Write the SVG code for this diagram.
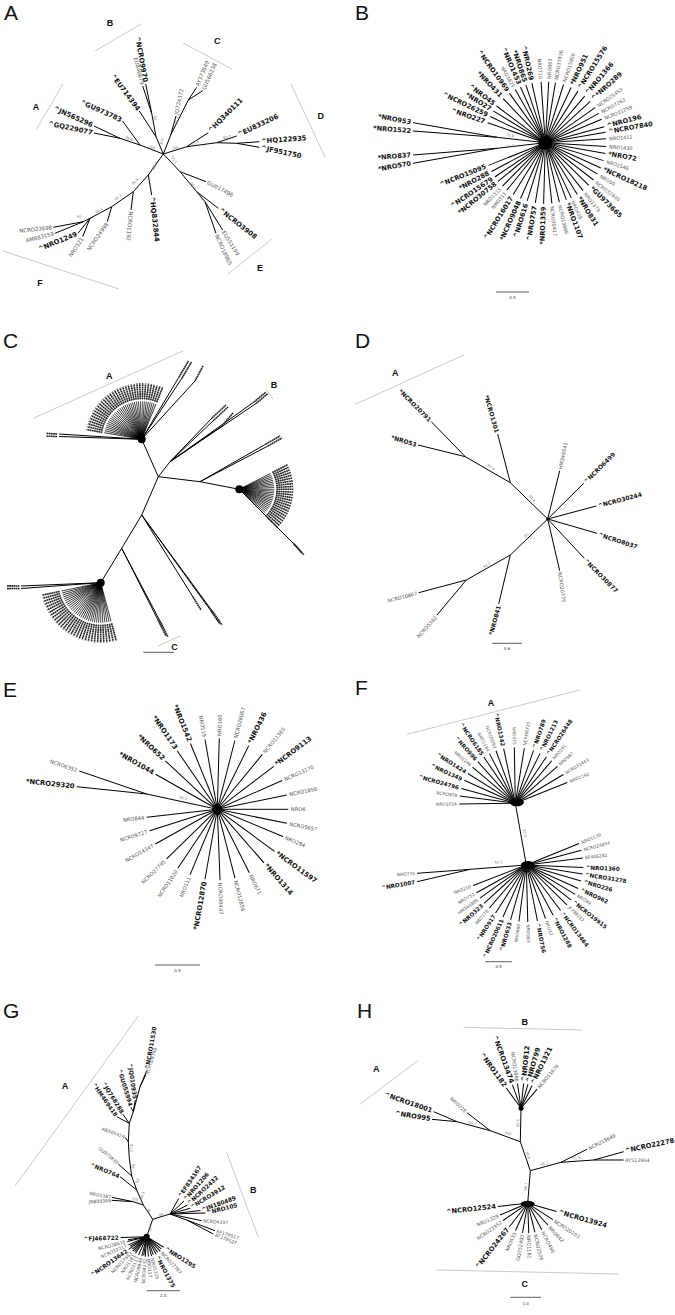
<svg xmlns="http://www.w3.org/2000/svg" width="675" height="1315" viewBox="0 0 675 1315">
<style>
text{font-family:'DejaVu Sans',Verdana,sans-serif;dominant-baseline:central}
line,path{stroke:#000;stroke-width:1;fill:none}
.b{font-weight:bold;fill:#111}
.s{fill:#555}
.L{text-anchor:end}
.bs{font-size:3.6px;fill:#777;text-anchor:middle}
.pl{font-family:'Liberation Sans',Arial,sans-serif;font-size:21px;fill:#111;dominant-baseline:auto}
.cl{font-family:'Liberation Sans',Arial,sans-serif;font-weight:bold;font-size:9px;fill:#111;text-anchor:middle;dominant-baseline:auto}
.sc{font-size:4px;fill:#333;text-anchor:middle;dominant-baseline:auto}
.br{stroke:#bbb;stroke-width:.8}
.scl{stroke:#333;stroke-width:.8}
.fl{stroke-width:.7}
.sm{stroke:#222;stroke-width:1.6;stroke-dasharray:1.8 .4}
#pA .b{font-size:6.8px}#pA .s{font-size:5.4px}
#pB .b{font-size:6.6px}#pB .s{font-size:4.9px}
#pD .b{font-size:6px}#pD .s{font-size:5px}
#pE .b{font-size:6.8px}#pE .s{font-size:5.2px}
#pF .b{font-size:5.6px}#pF .s{font-size:4.4px}
#pG .b{font-size:5.8px}#pG .s{font-size:4.6px}
#pH .b{font-size:6.7px}#pH .s{font-size:4.9px}
</style>
<defs>
<g id="spA"><line class="fl" x2="38"/><line class="sm" x1="40" x2="56"/></g>
<g id="spC"><line class="fl" x2="40"/><line class="sm" x1="42" x2="60"/></g>
<g id="spD"><line class="fl" x2="35"/><line class="sm" x1="37" x2="54"/></g>
</defs>
<rect width="675" height="1315" fill="#fff"/>

<!-- ================= PANEL A ================= -->
<g id="pA">
<text class="pl" x="4" y="20">A</text>
<g id="pA-clades">
<line class="br" x1="95" y1="51" x2="141" y2="24"/>
<line class="br" x1="183" y1="43" x2="232" y2="69"/>
<line class="br" x1="291" y1="84" x2="325" y2="157"/>
<line class="br" x1="36" y1="130" x2="63" y2="84"/>
<line class="br" x1="228" y1="274" x2="272" y2="239"/>
<line class="br" x1="3" y1="251" x2="119" y2="289"/>
<text class="cl" x="110" y="26">B</text>
<text class="cl" x="217.3" y="44">C</text>
<text class="cl" x="320.7" y="118.5">D</text>
<text class="cl" x="36" y="110">A</text>
<text class="cl" x="260" y="271">E</text>
<text class="cl" x="40" y="286">F</text>
</g>
<g id="pA-edges">
<path d="M163.3,154 L140,145 L122.5,121 M140,145 L120,138.3 L94,126 M120,138.3 L94,133 M163.3,154 L156,136.7 L139.3,111 M156,136.7 L151.7,113.3 L145.7,84 M151.7,113.3 L142.7,86 M163.3,154 L170.7,135 L176,116 M170.7,135 L188.3,100 L196.7,87.3 M188.3,100 L202.7,90.7 M163.3,154 L186.7,146.7 L208.3,132.7 M186.7,146.7 L216.7,142.7 L236.7,136 M216.7,142.7 L236.7,143.3 L259.3,141.7 M236.7,143.3 L259.3,147.3 M163.3,154 L180,171.7 L206,181.7 M180,171.7 L196.7,191.7 L218.3,208.3 M196.7,191.7 L205,201.7 L222.7,230 M205,201.7 L216,233.3 M163.3,154 L148.3,175 L151.7,195 M148.3,175 L133.3,191.7 L131,210 M133.3,191.7 L111.7,206.7 L107.3,221.7 M111.7,206.7 L90,218.3 L83.3,221.7 L53.3,227.3 M83.3,221.7 L55,233.3 M90,218.3 L78,233.3 M90,218.3 L82.7,236.7"/>
</g>
<g id="pA-leaves">
<text id="A01" class="b L" transform="translate(145.3,82) rotate(80)">^NCRO9970</text>
<text id="A02" class="s L" transform="translate(142.3,84.5) rotate(76)">EU840679</text>
<text id="A03" class="b L" transform="translate(138.5,110) rotate(53)">^EU714394</text>
<text id="A04" class="b L" transform="translate(121.5,120.3) rotate(24)">^GU973783</text>
<text id="A05" class="b L" transform="translate(92.5,125.5) rotate(24)">^JN565296</text>
<text id="A06" class="b L" transform="translate(92.5,133) rotate(12)">^GQ229077</text>
<text id="A07" class="s" transform="translate(176.2,114.5) rotate(-78)">JQ724372</text>
<text id="A08" class="s" transform="translate(197.2,86) rotate(-68)">AY373849</text>
<text id="A09" class="s" transform="translate(203.4,89.5) rotate(-66)">GU566238</text>
<text id="A10" class="b" transform="translate(209.5,131.5) rotate(-45)">^HQ340111</text>
<text id="A11" class="b" transform="translate(238,135) rotate(-25)">^EU833206</text>
<text id="A12" class="b" transform="translate(261,141.4) rotate(-4)">^HQ122935</text>
<text id="A13" class="b" transform="translate(261,147.8) rotate(12)">^JF951750</text>
<text id="A14" class="s" transform="translate(207.5,182.3) rotate(27)">GU017496</text>
<text id="A15" class="b" transform="translate(219.5,209.3) rotate(38)">^NCRO3908</text>
<text id="A16" class="s" transform="translate(223.4,231.3) rotate(58)">EU551199</text>
<text id="A17" class="s" transform="translate(216.5,234.8) rotate(65)">NCRO18965</text>
<text id="A18" class="b" transform="translate(151.9,196.5) rotate(84)">^HQ832844</text>
<text id="A19" class="s" transform="translate(130.9,211.5) rotate(95)">NCRO1192</text>
<text id="A20" class="s L" transform="translate(107,223) rotate(-55)">NCRO24998</text>
<text id="A21" class="s L" transform="translate(82.3,238) rotate(-56)">NRO321</text>
<text id="A22" class="b L" transform="translate(77,234) rotate(-22)">^NRO1249</text>
<text id="A23" class="s L" transform="translate(52,227.4) rotate(-6)">NCRO23698</text>
<text id="A24" class="s L" transform="translate(53.8,233.6) rotate(-14)">AM883159</text>
</g>
<g id="pA-support">
<text class="bs" transform="translate(152,147.5) rotate(20)">100</text>
<text class="bs" transform="translate(129,139) rotate(20)">96.6</text>
<text class="bs" transform="translate(162,141.5) rotate(-70)">100</text>
<text class="bs" transform="translate(155.5,118.3) rotate(-80)">99</text>
<text class="bs" transform="translate(177.5,121) rotate(-70)">97.7</text>
<text class="bs" transform="translate(175,148) rotate(-10)">100</text>
<text class="bs" transform="translate(195,143) rotate(-15)">73.4</text>
<text class="bs" transform="translate(227,137.5) rotate(-8)">83.7</text>
<text class="bs" transform="translate(174,160) rotate(50)">55.1</text>
<text class="bs" transform="translate(193,186) rotate(50)">96.3</text>
<text class="bs" transform="translate(202,199.5) rotate(55)">99.1</text>
<text class="bs" transform="translate(155,166) rotate(-65)">88.4</text>
<text class="bs" transform="translate(135,182) rotate(-45)">99.8</text>
<text class="bs" transform="translate(118.3,197.3) rotate(-38)">62.3</text>
<text class="bs" transform="translate(99.3,210.7) rotate(-28)">64.4</text>
<text class="bs" transform="translate(79.3,216.7) rotate(-15)">56</text>
</g>
</g>

<!-- ================= PANEL B ================= -->
<g id="pB">
<text class="pl" x="355" y="20">B</text>
<g id="pB-edges">
<path d="M413,122.7 L497,137.3 L545.3,142.7 M413,131 L497,137.3 M413,155 L497,148.3 L545.3,142.7 M413,163.3 L497,148.3"/>
</g>
<g id="pB-long">
<text id="B-953" class="b L" transform="translate(411,122.3) rotate(10)">*NRO953</text>
<text id="B-1522" class="b L" transform="translate(411,131) rotate(4)">*NRO1522</text>
<text id="B-837" class="b L" transform="translate(411,155) rotate(-5)">*NRO837</text>
<text id="B-570" class="b L" transform="translate(411,163.5) rotate(-10)">*NRO570</text>
<text class="bs" transform="translate(510,135.5) rotate(5)">72.8</text>
<text class="bs" transform="translate(510,146.5) rotate(-5)">64.7</text>
</g>
<g id="pB-leaves" transform="translate(545.3,142.7)">
<g id="B01" transform="rotate(-161)"><line x2="61"/><text class="b L" x="64" transform="rotate(180 64 0)">^NRO227</text></g>
<g id="B02" transform="rotate(-154.6)"><line x2="61"/><text class="b L" x="64" transform="rotate(180 64 0)">^NCRO26259</text></g>
<g id="B03" transform="rotate(-148.6)"><line x2="61"/><text class="b L" x="64" transform="rotate(180 64 0)">*NRO27</text></g>
<g id="B04" transform="rotate(-143)"><line x2="61"/><text class="b L" x="64" transform="rotate(180 64 0)">^NRO45</text></g>
<g id="B05" transform="rotate(-133.7)"><line x2="61"/><text class="b L" x="64" transform="rotate(180 64 0)">*NRO431</text></g>
<g id="B06" transform="rotate(-126)"><line x2="61"/><text class="b L" x="64" transform="rotate(180 64 0)">^NCRO10969</text></g>
<g id="B07" transform="rotate(-119.5)"><line x2="61"/><text class="s L" x="64" transform="rotate(180 64 0)">NRO1823</text></g>
<g id="B08" transform="rotate(-114)"><line x2="61"/><text class="b L" x="64" transform="rotate(180 64 0)">^NRO1453</text></g>
<g id="B09" transform="rotate(-108.6)"><line x2="61"/><text class="b L" x="64" transform="rotate(180 64 0)">*NRO865</text></g>
<g id="B10" transform="rotate(-102.7)"><line x2="61"/><text class="b L" x="64" transform="rotate(180 64 0)">^NRO269</text></g>
<g id="B11" transform="rotate(-94)"><line x2="61"/><text class="s L" x="64" transform="rotate(180 64 0)">NRO710</text></g>
<g id="B12" transform="rotate(-86.8)"><line x2="61"/><text class="s" x="64">NRO883</text></g>
<g id="B13" transform="rotate(-80.4)"><line x2="61"/><text class="s" x="64">NCRO33936</text></g>
<g id="B14" transform="rotate(-72.6)"><line x2="61"/><text class="s" x="64">NCRO15950</text></g>
<g id="B15" transform="rotate(-65)"><line x2="61"/><text class="b" x="64">*NRO951</text></g>
<g id="B16" transform="rotate(-57.7)"><line x2="61"/><text class="b" x="64">^NCRO15576</text></g>
<g id="B17" transform="rotate(-49.8)"><line x2="61"/><text class="b" x="64">^NRO1366</text></g>
<g id="B18" transform="rotate(-42.5)"><line x2="61"/><text class="b" x="64">^*NRO289</text></g>
<g id="B19" transform="rotate(-35.2)"><line x2="61"/><text class="s" x="64">NCRO25453</text></g>
<g id="B20" transform="rotate(-28.7)"><line x2="61"/><text class="s" x="64">NCRO7262</text></g>
<g id="B21" transform="rotate(-22.6)"><line x2="61"/><text class="s" x="64">NCRO21259</text></g>
<g id="B22" transform="rotate(-15.1)"><line x2="61"/><text class="b" x="64">^NRO196</text></g>
<g id="B23" transform="rotate(-9.9)"><line x2="61"/><text class="b" x="64">^NCRO7840</text></g>
<g id="B24" transform="rotate(-3.8)"><line x2="61"/><text class="s" x="64">NRO1412</text></g>
<g id="B25" transform="rotate(3.5)"><line x2="61"/><text class="s" x="64">NRO1430</text></g>
<g id="B26" transform="rotate(10.1)"><line x2="61"/><text class="b" x="64">*NRO72</text></g>
<g id="B27" transform="rotate(17.1)"><line x2="61"/><text class="s" x="64">NRO1546</text></g>
<g id="B28" transform="rotate(24.5)"><line x2="61"/><text class="b" x="64">*NCRO18218</text></g>
<g id="B29" transform="rotate(31)"><line x2="61"/><text class="s" x="64">NRO50</text></g>
<g id="B30" transform="rotate(37.7)"><line x2="61"/><text class="s" x="64">NCRO32400</text></g>
<g id="B31" transform="rotate(44.4)"><line x2="61"/><text class="b" x="64">*GU973665</text></g>
<g id="B32" transform="rotate(51.7)"><line x2="61"/><text class="s" x="64">NRO1379</text></g>
<g id="B33" transform="rotate(58.3)"><line x2="61"/><text class="b" x="64">*NRO831</text></g>
<g id="B34" transform="rotate(64.8)"><line x2="61"/><text class="s" x="64">NRO428</text></g>
<g id="B35" transform="rotate(69.8)"><line x2="61"/><text class="b" x="64">*NRO1107</text></g>
<g id="B36" transform="rotate(76.7)"><line x2="61"/><text class="s" x="64">NCRO13886</text></g>
<g id="B37" transform="rotate(83.8)"><line x2="61"/><text class="s" x="64">NCRO30417</text></g>
<g id="B38" transform="rotate(91.6)"><line x2="61"/><text class="b L" x="64" transform="rotate(180 64 0)">*NRO1359</text></g>
<g id="B39" transform="rotate(99.4)"><line x2="61"/><text class="b L" x="64" transform="rotate(180 64 0)">^NRO757</text></g>
<g id="B40" transform="rotate(107.3)"><line x2="61"/><text class="b L" x="64" transform="rotate(180 64 0)">^NRO616</text></g>
<g id="B41" transform="rotate(114)"><line x2="61"/><text class="b L" x="64" transform="rotate(180 64 0)">*NCRO9048</text></g>
<g id="B42" transform="rotate(121.7)"><line x2="61"/><text class="b L" x="64" transform="rotate(180 64 0)">^NCRO16017</text></g>
<g id="B43" transform="rotate(129)"><line x2="61"/><text class="s L" x="64" transform="rotate(180 64 0)">NRO311</text></g>
<g id="B44" transform="rotate(134.6)"><line x2="61"/><text class="s L" x="64" transform="rotate(180 64 0)">NRO1515</text></g>
<g id="B45" transform="rotate(140.7)"><line x2="61"/><text class="b L" x="64" transform="rotate(180 64 0)">*NCRO30758</text></g>
<g id="B46" transform="rotate(145.8)"><line x2="61"/><text class="b L" x="64" transform="rotate(180 64 0)">^NCRO15679</text></g>
<g id="B47" transform="rotate(151.8)"><line x2="61"/><text class="b L" x="64" transform="rotate(180 64 0)">*NRO288</text></g>
<g id="B48" transform="rotate(158.2)"><line x2="61"/><text class="b L" x="64" transform="rotate(180 64 0)">^NCRO15095</text></g>
<circle r="7" fill="#000"/>
</g>
<g id="pB-scale"><line class="scl" x1="496" y1="292" x2="529" y2="292"/><text class="sc" x="512.5" y="299">0.5</text></g>
</g>

<!-- ================= PANEL C ================= -->
<g id="pC">
<text class="pl" x="3" y="348">C</text>
<g id="pC-clades">
<line class="br" x1="33.3" y1="418.3" x2="183.3" y2="350.7"/>
<text class="cl" x="109.3" y="378.5">A</text>
<line class="br" x1="266" y1="389" x2="273" y2="399"/>
<text class="cl" x="274" y="387.5">B</text>
<line class="br" x1="158" y1="646" x2="180" y2="636"/>
<text class="cl" x="174.5" y="649.5">C</text>
</g>
<g id="pC-edges">
<path d="M141.7,439.3 L158.3,476.7 L170,461.7 L212,418 M170,461.7 L214,420 M170,461.7 L222,426 M170,461.7 L254,402 M170,461.7 L256,403.5 M158.3,476.7 L200,481.7 L266,444 M200,481.7 L268,446 M200,481.7 L239.3,489.3 L293,543 M239.3,489.3 L295,545 M158.3,476.7 L141.7,515 L193,597 M141.7,515 L211,611 M141.7,515 L213,612 M141.7,515 L121.7,548.3 L158,620 M121.7,548.3 L160,621 M121.7,548.3 L100.7,582.7 L21,586 M100.7,582.7 L21,588.5 M141.7,439.3 L59,434 M141.7,439.3 L59,436.5 M141.7,439.3 L179,377 M141.7,439.3 L182,378 M141.7,439.3 L195,381"/>
</g>
<g id="pC-labels">
<line class="sm" x1="212" y1="418" x2="226" y2="405"/>
<line class="sm" x1="214" y1="420" x2="228" y2="407"/>
<line class="sm" x1="222" y1="426" x2="233" y2="413"/>
<line class="sm" x1="254" y1="402" x2="266" y2="392"/>
<line class="sm" x1="256" y1="403.5" x2="268" y2="393.5"/>
<line class="sm" x1="266" y1="444" x2="280" y2="436"/>
<line class="sm" x1="268" y1="446" x2="282" y2="438"/>
<line class="sm" x1="293" y1="543" x2="302" y2="553"/>
<line class="sm" x1="295" y1="545" x2="304" y2="555"/>
<line class="sm" x1="193" y1="597" x2="201" y2="610"/>
<line class="sm" x1="211" y1="611" x2="220" y2="624"/>
<line class="sm" x1="213" y1="612" x2="222" y2="625"/>
<line class="sm" x1="158" y1="620" x2="166" y2="636"/>
<line class="sm" x1="160" y1="621" x2="168" y2="637"/>
<line class="sm" x1="7" y1="585.8" x2="19.5" y2="586"/>
<line class="sm" x1="7" y1="588.6" x2="19.5" y2="588.5"/>
<line class="sm" x1="46.5" y1="433.4" x2="57.5" y2="434"/>
<line class="sm" x1="46.5" y1="436.2" x2="57.5" y2="436.5"/>
<line class="sm" x1="179" y1="377" x2="188.5" y2="361"/>
<line class="sm" x1="182" y1="378" x2="191.5" y2="362"/>
<line class="sm" x1="195" y1="381" x2="203" y2="366"/>
</g>
<g id="pC-fanA" transform="translate(141.7,439.3)">
<use href="#spA" transform="rotate(-170)"/><use href="#spA" transform="rotate(-167)"/><use href="#spA" transform="rotate(-164)"/><use href="#spA" transform="rotate(-161)"/><use href="#spA" transform="rotate(-158)"/><use href="#spA" transform="rotate(-155)"/><use href="#spA" transform="rotate(-152)"/><use href="#spA" transform="rotate(-149)"/><use href="#spA" transform="rotate(-146)"/><use href="#spA" transform="rotate(-143)"/><use href="#spA" transform="rotate(-140)"/><use href="#spA" transform="rotate(-137)"/><use href="#spA" transform="rotate(-134)"/><use href="#spA" transform="rotate(-131)"/><use href="#spA" transform="rotate(-128)"/><use href="#spA" transform="rotate(-125)"/><use href="#spA" transform="rotate(-122)"/><use href="#spA" transform="rotate(-119)"/><use href="#spA" transform="rotate(-116)"/><use href="#spA" transform="rotate(-113)"/><use href="#spA" transform="rotate(-110)"/><use href="#spA" transform="rotate(-107)"/><use href="#spA" transform="rotate(-104)"/><use href="#spA" transform="rotate(-101)"/><use href="#spA" transform="rotate(-98)"/><use href="#spA" transform="rotate(-95)"/><use href="#spA" transform="rotate(-92)"/><use href="#spA" transform="rotate(-89)"/><use href="#spA" transform="rotate(-86)"/><use href="#spA" transform="rotate(-83)"/><use href="#spA" transform="rotate(-80)"/><use href="#spA" transform="rotate(-77)"/><use href="#spA" transform="rotate(-74)"/><use href="#spA" transform="rotate(-71)"/><use href="#spA" transform="rotate(-68)"/>
<circle r="4" fill="#000"/>
</g>
<g id="pC-fanC" transform="translate(100.7,582.7)">
<use href="#spC" transform="rotate(75)"/><use href="#spC" transform="rotate(78)"/><use href="#spC" transform="rotate(81)"/><use href="#spC" transform="rotate(84)"/><use href="#spC" transform="rotate(87)"/><use href="#spC" transform="rotate(90)"/><use href="#spC" transform="rotate(93)"/><use href="#spC" transform="rotate(96)"/><use href="#spC" transform="rotate(99)"/><use href="#spC" transform="rotate(102)"/><use href="#spC" transform="rotate(105)"/><use href="#spC" transform="rotate(108)"/><use href="#spC" transform="rotate(111)"/><use href="#spC" transform="rotate(114)"/><use href="#spC" transform="rotate(117)"/><use href="#spC" transform="rotate(120)"/><use href="#spC" transform="rotate(123)"/><use href="#spC" transform="rotate(126)"/><use href="#spC" transform="rotate(129)"/><use href="#spC" transform="rotate(132)"/><use href="#spC" transform="rotate(135)"/><use href="#spC" transform="rotate(138)"/><use href="#spC" transform="rotate(141)"/><use href="#spC" transform="rotate(144)"/><use href="#spC" transform="rotate(147)"/><use href="#spC" transform="rotate(150)"/><use href="#spC" transform="rotate(153)"/><use href="#spC" transform="rotate(156)"/><use href="#spC" transform="rotate(159)"/><use href="#spC" transform="rotate(162)"/><use href="#spC" transform="rotate(165)"/><use href="#spC" transform="rotate(168)"/>
<circle r="4" fill="#000"/>
</g>
<g id="pC-fanD" transform="translate(239.3,489.3)">
<use href="#spD" transform="rotate(-27)"/><use href="#spD" transform="rotate(-24)"/><use href="#spD" transform="rotate(-21)"/><use href="#spD" transform="rotate(-18)"/><use href="#spD" transform="rotate(-15)"/><use href="#spD" transform="rotate(-12)"/><use href="#spD" transform="rotate(-9)"/><use href="#spD" transform="rotate(-6)"/><use href="#spD" transform="rotate(-3)"/><use href="#spD" transform="rotate(0)"/><use href="#spD" transform="rotate(3)"/><use href="#spD" transform="rotate(6)"/><use href="#spD" transform="rotate(9)"/><use href="#spD" transform="rotate(12)"/><use href="#spD" transform="rotate(15)"/><use href="#spD" transform="rotate(18)"/><use href="#spD" transform="rotate(21)"/><use href="#spD" transform="rotate(24)"/><use href="#spD" transform="rotate(27)"/><use href="#spD" transform="rotate(30)"/><use href="#spD" transform="rotate(33)"/><use href="#spD" transform="rotate(36)"/><use href="#spD" transform="rotate(39)"/><use href="#spD" transform="rotate(42)"/><use href="#spD" transform="rotate(45)"/>
<circle r="4" fill="#000"/>
</g>
<g id="pC-scale"><line class="scl" x1="143.3" y1="652.3" x2="174" y2="652.3"/></g>
</g>

<!-- ================= PANEL D ================= -->
<g id="pD">
<text class="pl" x="355" y="348">D</text>
<g id="pD-clades">
<line class="br" x1="355.3" y1="404.3" x2="463.7" y2="355"/>
<text class="cl" x="395.3" y="376">A</text>
</g>
<g id="pD-edges">
<path d="M547.7,519 L510.3,482.7 L465.3,456.7 L431.3,421.7 M465.3,456.7 L418,445 M510.3,482.7 L497.7,434 M547.7,519 L559.7,470.7 M547.7,519 L583.7,483.3 M547.7,519 L596.3,506 M547.7,519 L597,533.3 M547.7,519 L584.3,558.3 M547.7,519 L559.7,570.7 M547.7,519 L510.3,555 L498.7,604 M510.3,555 L466.3,580 L418.7,592.7 M466.3,580 L437,615"/>
<circle cx="547.7" cy="519" r="1.5" fill="#000"/>
</g>
<g id="pD-leaves">
<text id="D01" class="b L" transform="translate(430.5,420.5) rotate(45)">*NCRO20791</text>
<text id="D02" class="b L" transform="translate(416.5,444.5) rotate(17)">*NRO53</text>
<text id="D03" class="b L" transform="translate(497.3,432.5) rotate(74)">*NCRO1301</text>
<text id="D04" class="s" transform="translate(560,469) rotate(-78)">HM346541</text>
<text id="D05" class="b" transform="translate(585,482) rotate(-45)">^NCRO6499</text>
<text id="D06" class="b" transform="translate(598,505.5) rotate(-15)">^NCRO30244</text>
<text id="D07" class="b" transform="translate(598.5,534) rotate(18)">^NCRO8037</text>
<text id="D08" class="b" transform="translate(585.3,559.5) rotate(45)">^NCRO30877</text>
<text id="D09" class="s" transform="translate(560,572) rotate(82)">NCRO20335</text>
<text id="D10" class="b L" transform="translate(498.5,605.5) rotate(-75)">*NRO841</text>
<text id="D11" class="s L" transform="translate(417,593) rotate(-15)">NCRO10867</text>
<text id="D12" class="s L" transform="translate(436,616.5) rotate(-48)">NCRO5362</text>
</g>
<g id="pD-support">
<text class="bs" transform="translate(491,467.5) rotate(30)">93.6</text>
<text class="bs" transform="translate(532,498.5) rotate(45)">92.4</text>
<text class="bs" transform="translate(526.5,535.5) rotate(-45)">85</text>
<text class="bs" transform="translate(487,565.5) rotate(-30)">54.7</text>
</g>
<g id="pD-scale"><line class="scl" x1="492" y1="643.3" x2="522" y2="643.3"/><text class="sc" x="507" y="650">0.6</text></g>
</g>

<!-- ================= PANEL E ================= -->
<g id="pE">
<text class="pl" x="3" y="697">E</text>
<g id="pE-edges">
<path d="M76.7,786.7 L146.7,794 L217.3,809.3 M79.3,771 L146.7,794"/>
</g>
<g id="pE-long">
<text id="E-29320" class="b L" transform="translate(74.5,786.5) rotate(6)">*NCRO29320</text>
<text id="E-6352" class="s L" transform="translate(77,770.3) rotate(19)">NCRO6352</text>
<text class="bs" transform="translate(182.7,798.5) rotate(12)">79.3</text>
</g>
<g id="pE-leaves" transform="translate(217.3,809.3)">
<g id="E01" transform="rotate(-150.4)"><line x2="71"/><text class="b L" x="73.5" transform="rotate(180 73.5 0)">*NRO1044</text></g>
<g id="E02" transform="rotate(-137)"><line x2="71"/><text class="b L" x="73.5" transform="rotate(180 73.5 0)">*NRO652</text></g>
<g id="E03" transform="rotate(-124.4)"><line x2="71"/><text class="b L" x="73.5" transform="rotate(180 73.5 0)">*NRO1173</text></g>
<g id="E04" transform="rotate(-112.2)"><line x2="71"/><text class="b L" x="73.5" transform="rotate(180 73.5 0)">*NRO1542</text></g>
<g id="E05" transform="rotate(-100)"><line x2="71"/><text class="s L" x="73.5" transform="rotate(180 73.5 0)">NRO519</text></g>
<g id="E06" transform="rotate(-88.4)"><line x2="71"/><text class="s" x="73.5">NRO160</text></g>
<g id="E07" transform="rotate(-75.7)"><line x2="71"/><text class="s" x="73.5">NCRO28067</text></g>
<g id="E08" transform="rotate(-63.7)"><line x2="71"/><text class="b" x="73.5">*NRO436</text></g>
<g id="E09" transform="rotate(-50.6)"><line x2="71"/><text class="s" x="73.5">NCRO11365</text></g>
<g id="E10" transform="rotate(-37.3)"><line x2="71"/><text class="b" x="73.5">*NCRO9113</text></g>
<g id="E11" transform="rotate(-24)"><line x2="71"/><text class="s" x="73.5">NCRO13170</text></g>
<g id="E12" transform="rotate(-11.7)"><line x2="71"/><text class="s" x="73.5">NCRO1856</text></g>
<g id="E13" transform="rotate(0)"><line x2="71"/><text class="s" x="73.5">NRO6</text></g>
<g id="E14" transform="rotate(11.3)"><line x2="71"/><text class="s" x="73.5">NCRO5657</text></g>
<g id="E15" transform="rotate(22.5)"><line x2="71"/><text class="s" x="73.5">NRO284</text></g>
<g id="E16" transform="rotate(36.3)"><line x2="71"/><text class="b" x="73.5">*NCRO11597</text></g>
<g id="E17" transform="rotate(48.9)"><line x2="71"/><text class="b" x="73.5">*NRO1314</text></g>
<g id="E18" transform="rotate(63.2)"><line x2="71"/><text class="s" x="73.5">NRO671</text></g>
<g id="E19" transform="rotate(75.6)"><line x2="71"/><text class="s" x="73.5">NCRO12856</text></g>
<g id="E20" transform="rotate(87.8)"><line x2="71"/><text class="s" x="73.5">NCRO40447</text></g>
<g id="E21" transform="rotate(100)"><line x2="71"/><text class="b L" x="73.5" transform="rotate(180 73.5 0)">*NCRO12870</text></g>
<g id="E22" transform="rotate(112.6)"><line x2="71"/><text class="s L" x="73.5" transform="rotate(180 73.5 0)">NRO111</text></g>
<g id="E23" transform="rotate(123.8)"><line x2="71"/><text class="s L" x="73.5" transform="rotate(180 73.5 0)">NCRO11620</text></g>
<g id="E24" transform="rotate(135.6)"><line x2="71"/><text class="s L" x="73.5" transform="rotate(180 73.5 0)">NCRO27795</text></g>
<g id="E25" transform="rotate(150.7)"><line x2="71"/><text class="s L" x="73.5" transform="rotate(180 73.5 0)">NCRO14347</text></g>
<g id="E26" transform="rotate(162.4)"><line x2="71"/><text class="s L" x="73.5" transform="rotate(180 73.5 0)">NCRO9727</text></g>
<g id="E27" transform="rotate(173.6)"><line x2="71"/><text class="s L" x="73.5" transform="rotate(180 73.5 0)">NRO844</text></g>
<circle r="5" fill="#000"/>
</g>
<g id="pE-scale"><line class="scl" x1="155" y1="965" x2="200" y2="965"/><text class="sc" x="177.5" y="972">0.5</text></g>
</g>

<!-- ================= PANEL F ================= -->
<g id="pF">
<text class="pl" x="355" y="695">F</text>
<g id="pF-clades">
<line class="br" x1="407" y1="734.3" x2="579.7" y2="690"/>
<text class="cl" x="491" y="705.5">A</text>
</g>
<g id="pF-edges">
<path d="M515.3,803.3 L526.3,865 M417,873.3 L470.3,869.3 L526.3,865 M417,881.7 L470.3,869.3"/>
</g>
<g id="pF-long">
<text id="F-775" class="s L" transform="translate(415,873.5) rotate(-4)">NRO775</text>
<text id="F-1007" class="b L" transform="translate(415,882) rotate(-10)">^NRO1007</text>
<text class="bs" transform="translate(498.7,862.5) rotate(-4)">50.5</text>
<text class="bs" transform="translate(524.5,833.3) rotate(80)">93.5</text>
</g>
<g id="pF-upper" transform="translate(515.3,803.3)">
<g id="FU01" transform="rotate(179.3)"><line x2="56"/><text class="s L" x="58.5" transform="rotate(180 58.5 0)">NRO1014</text></g>
<g id="FU02" transform="rotate(-172.4)"><line x2="56"/><text class="s L" x="58.5" transform="rotate(180 58.5 0)">NCRO878</text></g>
<g id="FU03" transform="rotate(-164.6)"><line x2="56"/><text class="b L" x="58.5" transform="rotate(180 58.5 0)">^NCRO24796</text></g>
<g id="FU04" transform="rotate(-155.7)"><line x2="56"/><text class="b L" x="58.5" transform="rotate(180 58.5 0)">^NRO1349</text></g>
<g id="FU05" transform="rotate(-147.9)"><line x2="56"/><text class="b L" x="58.5" transform="rotate(180 58.5 0)">^NRO1424</text></g>
<g id="FU06" transform="rotate(-139.8)"><line x2="56"/><text class="s L" x="58.5" transform="rotate(180 58.5 0)">NRO1246</text></g>
<g id="FU07" transform="rotate(-132)"><line x2="56"/><text class="b L" x="58.5" transform="rotate(180 58.5 0)">^NRO996</text></g>
<g id="FU08" transform="rotate(-124.2)"><line x2="56"/><text class="b L" x="58.5" transform="rotate(180 58.5 0)">^NCRO6185</text></g>
<g id="FU09" transform="rotate(-117.5)"><line x2="56"/><text class="s L" x="58.5" transform="rotate(180 58.5 0)">NRO1184</text></g>
<g id="FU10" transform="rotate(-110.2)"><line x2="56"/><text class="s L" x="58.5" transform="rotate(180 58.5 0)">NCRO5093</text></g>
<g id="FU11" transform="rotate(-102)"><line x2="56"/><text class="b L" x="58.5" transform="rotate(180 58.5 0)">^NRO1342</text></g>
<g id="FU12" transform="rotate(-91)"><line x2="56"/><text class="s L" x="58.5" transform="rotate(180 58.5 0)">NRO575</text></g>
<g id="FU13" transform="rotate(-80.7)"><line x2="56"/><text class="s" x="58.5">NCRO6715</text></g>
<g id="FU14" transform="rotate(-71)"><line x2="56"/><text class="b" x="58.5">^NRO789</text></g>
<g id="FU15" transform="rotate(-63.6)"><line x2="56"/><text class="b" x="58.5">^NRO1213</text></g>
<g id="FU16" transform="rotate(-56.2)"><line x2="56"/><text class="b" x="58.5">^NCRO26448</text></g>
<g id="FU17" transform="rotate(-49.4)"><line x2="56"/><text class="s" x="58.5">NRO241</text></g>
<g id="FU18" transform="rotate(-41.2)"><line x2="56"/><text class="s" x="58.5">NRO987</text></g>
<g id="FU19" transform="rotate(-30.9)"><line x2="56"/><text class="s" x="58.5">NCRO31443</text></g>
<g id="FU20" transform="rotate(-21.8)"><line x2="56"/><text class="s" x="58.5">NRO1192</text></g>
<ellipse cx="1.5" cy="-1" rx="7" ry="4" fill="#000"/>
</g>
<g id="pF-lower" transform="translate(526.3,865)">
<g id="FL01" transform="rotate(-22.2)"><line x2="57"/><text class="s" x="59.5">NRO1539</text></g>
<g id="FL02" transform="rotate(-14.9)"><line x2="57"/><text class="s" x="59.5">NCRO24854</text></g>
<g id="FL03" transform="rotate(-7)"><line x2="57"/><text class="s" x="59.5">EF446282</text></g>
<g id="FL04" transform="rotate(2.4)"><line x2="57"/><text class="b" x="59.5">^NRO1360</text></g>
<g id="FL05" transform="rotate(9.2)"><line x2="57"/><text class="b" x="59.5">^NCRO31278</text></g>
<g id="FL06" transform="rotate(16.2)"><line x2="57"/><text class="b" x="59.5">^NRO226</text></g>
<g id="FL07" transform="rotate(24.4)"><line x2="57"/><text class="b" x="59.5">^NRO962</text></g>
<g id="FL08" transform="rotate(31)"><line x2="57"/><text class="s" x="59.5">NRO99</text></g>
<g id="FL09" transform="rotate(38)"><line x2="57"/><text class="b" x="59.5">^NCRO19915</text></g>
<g id="FL10" transform="rotate(44.5)"><line x2="57"/><text class="s" x="59.5">JF798217</text></g>
<g id="FL11" transform="rotate(53)"><line x2="57"/><text class="b" x="59.5">^NCRO13464</text></g>
<g id="FL12" transform="rotate(61.9)"><line x2="57"/><text class="b" x="59.5">^NRO1288</text></g>
<g id="FL13" transform="rotate(70.3)"><line x2="57"/><text class="s" x="59.5">NRO12</text></g>
<g id="FL14" transform="rotate(78.7)"><line x2="57"/><text class="b" x="59.5">^NRO756</text></g>
<g id="FL15" transform="rotate(88.5)"><line x2="57"/><text class="s" x="59.5">NRO983</text></g>
<g id="FL16" transform="rotate(97.4)"><line x2="57"/><text class="s L" x="59.5" transform="rotate(180 59.5 0)">NRO668</text></g>
<g id="FL17" transform="rotate(106)"><line x2="57"/><text class="b L" x="59.5" transform="rotate(180 59.5 0)">^NRO633</text></g>
<g id="FL18" transform="rotate(114.2)"><line x2="57"/><text class="b L" x="59.5" transform="rotate(180 59.5 0)">^NCRO20611</text></g>
<g id="FL19" transform="rotate(122.6)"><line x2="57"/><text class="b L" x="59.5" transform="rotate(180 59.5 0)">^NRO917</text></g>
<g id="FL20" transform="rotate(130.6)"><line x2="57"/><text class="s L" x="59.5" transform="rotate(180 59.5 0)">NRO176</text></g>
<g id="FL21" transform="rotate(137.8)"><line x2="57"/><text class="b L" x="59.5" transform="rotate(180 59.5 0)">^NRO323</text></g>
<g id="FL22" transform="rotate(144.5)"><line x2="57"/><text class="s L" x="59.5" transform="rotate(180 59.5 0)">HM346885</text></g>
<g id="FL23" transform="rotate(150.8)"><line x2="57"/><text class="s L" x="59.5" transform="rotate(180 59.5 0)">NRO752</text></g>
<g id="FL24" transform="rotate(158.9)"><line x2="57"/><text class="s L" x="59.5" transform="rotate(180 59.5 0)">NRO210</text></g>
<ellipse cx="1.5" cy="0" rx="7" ry="4" fill="#000"/>
</g>
<g id="pF-scale"><line class="scl" x1="485.3" y1="961.7" x2="512" y2="961.7"/><text class="sc" x="498.7" y="968">0.5</text></g>
</g>

<!-- ================= PANEL G ================= -->
<g id="pG">
<text class="pl" x="3" y="1018">G</text>
<g id="pG-clades">
<line class="br" x1="15" y1="1186" x2="138.3" y2="1016"/>
<text class="cl" x="65" y="1089">A</text>
<line class="br" x1="226.7" y1="1152.7" x2="258.3" y2="1237.3"/>
<text class="cl" x="253.3" y="1193">B</text>
</g>
<g id="pG-edges">
<path d="M152.7,1219.3 L146.7,1236.7 M152.7,1219.3 L170,1214 M152.7,1219.3 L143.3,1205 L133.3,1201.7 L111.7,1197.3 M133.3,1201.7 L111.7,1200.3 M143.3,1205 L136.7,1190 L120,1176.7 M136.7,1190 L131.7,1176 L118.3,1164 M131.7,1176 L129.3,1158.3 L128.3,1141.7 L125,1137.3 M128.3,1141.7 L129.3,1123.3 L116.7,1116.7 M129.3,1123.3 L122.7,1114 M129.3,1123.3 L133.3,1111.7 L131,1107.3 M133.3,1111.7 L135.3,1100 M133.3,1111.7 L140,1086.7 L146.7,1070.7 M140,1086.7 L145.7,1075 M170,1214 L178.7,1198.5 M170,1214 L184,1201 M170,1214 L187.5,1205 M170,1214 L190,1208.3 M170,1214 L200.5,1210.5 M170,1214 L205.5,1213 M170,1214 L201.7,1220.7 M170,1214 L186.7,1220 L215,1230.7 M186.7,1220 L213.3,1234"/>
</g>
<g id="pG-leaves">
<text id="G01" class="b" transform="translate(147,1069.5) rotate(-80)">^NCRO11530</text>
<text id="G02" class="s" transform="translate(147,1074.5) rotate(-72)">NCRO28748</text>
<text id="G03" class="b L" transform="translate(135,1099) rotate(82)">^JQ010935</text>
<text id="G04" class="b L" transform="translate(130.7,1106) rotate(73)">^GU055994</text>
<text id="G05" class="b L" transform="translate(122.4,1113) rotate(58)">^JQ768288</text>
<text id="G06" class="b L" transform="translate(116.2,1116) rotate(55)">^HM469418</text>
<text id="G07" class="s L" transform="translate(124.5,1137) rotate(20)">AB505424</text>
<text id="G08" class="s L" transform="translate(117.8,1163.5) rotate(40)">GU973832</text>
<text id="G09" class="b L" transform="translate(119.3,1176.3) rotate(22)">^NRO764</text>
<text id="G10" class="s L" transform="translate(111,1197.2) rotate(10)">NRO1387</text>
<text id="G11" class="s L" transform="translate(111,1200.5) rotate(-4)">JN899368</text>
<text id="G12" class="b" transform="translate(179.5,1197) rotate(-56)">^EF834167</text>
<text id="G13" class="b" transform="translate(184.8,1199.8) rotate(-49)">^NRO1206</text>
<text id="G14" class="b" transform="translate(188.5,1203.7) rotate(-43)">^NCRO2432</text>
<text id="G15" class="b" transform="translate(191.2,1207.5) rotate(-32)">^NCRO3912</text>
<text id="G16" class="b" transform="translate(201.8,1210) rotate(-20)">^JN180489</text>
<text id="G17" class="b" transform="translate(207,1212.7) rotate(-14)">^NRO105</text>
<text id="G18" class="s" transform="translate(203,1221) rotate(4)">NCRO4397</text>
<text id="G19" class="s" transform="translate(216.5,1231) rotate(18)">AF178517</text>
<text id="G20" class="s" transform="translate(215,1234.8) rotate(22)">AF178527</text>
</g>
<g id="pG-fan" transform="translate(146.7,1236.7)">
<g id="GF01" transform="rotate(178)"><line x2="26"/><text class="b L" x="28" transform="rotate(180 28 0)">^FJ466722</text></g>
<g id="GF02" transform="rotate(166)"><line x2="20"/><text class="s L" x="22" transform="rotate(180 22 0)">NCRO38670</text></g>
<g id="GF03" transform="rotate(156)"><line x2="20"/><text class="s L" x="22" transform="rotate(180 22 0)">NCRO32217</text></g>
<g id="GF04" transform="rotate(145)"><line x2="22"/><text class="b L" x="24" transform="rotate(180 24 0)">^NCRO13642</text></g>
<g id="GF05" transform="rotate(134)"><line x2="20"/><text class="s L" x="22" transform="rotate(180 22 0)">NCRO17663</text></g>
<g id="GF06" transform="rotate(124)"><line x2="20"/><text class="s L" x="22" transform="rotate(180 22 0)">NRO1181</text></g>
<g id="GF07" transform="rotate(114)"><line x2="20"/><text class="s L" x="22" transform="rotate(180 22 0)">NCRO2117</text></g>
<g id="GF08" transform="rotate(104)"><line x2="20"/><text class="s L" x="22" transform="rotate(180 22 0)">NCRO9849</text></g>
<g id="GF09" transform="rotate(94)"><line x2="20"/><text class="s L" x="22" transform="rotate(180 22 0)">NCRO4132</text></g>
<g id="GF10" transform="rotate(85)"><line x2="20"/><text class="s" x="22">NRO117</text></g>
<g id="GF11" transform="rotate(76)"><line x2="20"/><text class="s" x="22">NRO1225</text></g>
<g id="GF12" transform="rotate(62)"><line x2="20"/><text class="b" x="22">^NRO1375</text></g>
<g id="GF13" transform="rotate(47)"><line x2="20"/><text class="s" x="22">NCRO27787</text></g>
<g id="GF14" transform="rotate(32)"><line x2="20"/><text class="b" x="22">^NRO1295</text></g>
<g id="GF-extra"><line x2="19" transform="rotate(171)"/><line x2="19" transform="rotate(150)"/><line x2="19" transform="rotate(139)"/><line x2="19" transform="rotate(129)"/><line x2="19" transform="rotate(99)"/><line x2="19" transform="rotate(70)"/><line x2="19" transform="rotate(55)"/><line x2="19" transform="rotate(40)"/></g>
<circle r="3" fill="#000"/>
</g>
<g id="pG-support">
<text class="bs" transform="translate(150.5,1228) rotate(-78)">58.3</text>
<text class="bs" transform="translate(161,1215) rotate(-17)">98</text>
<text class="bs" transform="translate(149,1211) rotate(-60)">96</text>
<text class="bs" transform="translate(135,1199.5) rotate(10)">100</text>
<text class="bs" transform="translate(142.5,1195.5) rotate(-70)">83.5</text>
<text class="bs" transform="translate(137.5,1181) rotate(-72)">83</text>
<text class="bs" transform="translate(133.5,1166) rotate(-80)">86</text>
<text class="bs" transform="translate(131.5,1148) rotate(-85)">57.8</text>
<text class="bs" transform="translate(178.5,1215) rotate(-10)">76</text>
</g>
<g id="pG-scale"><line class="scl" x1="146.7" y1="1290.7" x2="180" y2="1290.7"/><text class="sc" x="163.3" y="1297">2.0</text></g>
</g>

<!-- ================= PANEL H ================= -->
<g id="pH">
<text class="pl" x="357" y="1018">H</text>
<g id="pH-clades">
<line class="br" x1="360.3" y1="1104" x2="417.7" y2="1060.7"/>
<text class="cl" x="376.3" y="1071.5">A</text>
<line class="br" x1="463.7" y1="1027.3" x2="582" y2="1030"/>
<text class="cl" x="524.7" y="1025">B</text>
<line class="br" x1="436.3" y1="1270" x2="618.7" y2="1274"/>
<text class="cl" x="524.7" y="1286.5">C</text>
</g>
<g id="pH-edges">
<path d="M520.3,1141.7 L521,1108.3 M520.3,1141.7 L490.3,1130.7 L467,1112.7 M490.3,1130.7 L457,1121.7 L433.7,1111.7 M457,1121.7 L432,1119.3 M520.3,1141.7 L530.3,1170.7 L561,1162.3 L587,1149.3 M561,1162.3 L593.7,1160 L623.7,1151.7 M593.7,1160 L623.7,1160 M530.3,1170.7 L527.7,1203.3"/>
</g>
<g id="pH-leaves">
<text id="H01" class="s L" transform="translate(466,1111.7) rotate(43)">NRO326</text>
<text id="H02" class="b L" transform="translate(432,1111) rotate(19)">^NCRO18001</text>
<text id="H03" class="b L" transform="translate(430.5,1119) rotate(9)">^NRO995</text>
<text id="H04" class="s" transform="translate(588.5,1148.5) rotate(-27)">NCRO18649</text>
<text id="H05" class="b" transform="translate(625,1151) rotate(-12)">^NCRO22278</text>
<text id="H06" class="s" transform="translate(625,1160) rotate(0)">AY513964</text>
</g>
<g id="pH-fanB" transform="translate(521,1108.3)">
<g id="HB1" transform="rotate(-126)"><line x2="25"/><text class="b L" x="27" transform="rotate(180 27 0)">^NRO1182</text></g>
<g id="HB2" transform="rotate(-110)"><line x2="25"/><text class="b L" x="27" transform="rotate(180 27 0)">^NCRO13474</text></g>
<g id="HB3" transform="rotate(-98)"><line x2="25"/><text class="s L" x="27" transform="rotate(180 27 0)">NCRO13866</text></g>
<g id="HB4" transform="rotate(-84)"><line x2="25"/><text class="b" x="27">^NRO812</text></g>
<g id="HB5" transform="rotate(-74)"><line x2="25"/><text class="b" x="27">^NRO799</text></g>
<g id="HB6" transform="rotate(-64)"><line x2="25"/><text class="b" x="27">^NRO1321</text></g>
<g id="HB7" transform="rotate(-50)"><line x2="25"/><text class="s" x="27">NCRO11676</text></g>
<circle r="2.5" fill="#000"/>
</g>
<g id="pH-fanC" transform="translate(527.7,1203.3)">
<g id="HC01" transform="rotate(174)"><line x2="30"/><text class="b L" x="32" transform="rotate(180 32 0)">^NCRO12524</text></g>
<g id="HC02" transform="rotate(157)"><line x2="30"/><text class="s L" x="32" transform="rotate(180 32 0)">NRO1329</text></g>
<g id="HC03" transform="rotate(145)"><line x2="30"/><text class="s L" x="32" transform="rotate(180 32 0)">NCRO21952</text></g>
<g id="HC04" transform="rotate(128)"><line x2="30"/><text class="b L" x="32" transform="rotate(180 32 0)">^NCRO24267</text></g>
<g id="HC05" transform="rotate(114)"><line x2="30"/><text class="s L" x="32" transform="rotate(180 32 0)">NRO533</text></g>
<g id="HC06" transform="rotate(100)"><line x2="30"/><text class="s L" x="32" transform="rotate(180 32 0)">GQ352490</text></g>
<g id="HC07" transform="rotate(88)"><line x2="30"/><text class="s" x="32">NRO1181</text></g>
<g id="HC08" transform="rotate(76)"><line x2="30"/><text class="s" x="32">NCRO2526</text></g>
<g id="HC09" transform="rotate(62)"><line x2="30"/><text class="s" x="32">NCRO466</text></g>
<g id="HC10" transform="rotate(47)"><line x2="30"/><text class="s" x="32">NRO642</text></g>
<g id="HC11" transform="rotate(33)"><line x2="30"/><text class="s" x="32">NCRO20103</text></g>
<g id="HC12" transform="rotate(16)"><line x2="30"/><text class="b" x="32">^NCRO13924</text></g>
<ellipse cx="0" cy="0.5" rx="7" ry="3" fill="#000"/>
</g>
<g id="pH-support">
<text class="bs" transform="translate(507.7,1133.5) rotate(18)">100</text>
<text class="bs" transform="translate(472,1123.5) rotate(15)">99.7</text>
<text class="bs" transform="translate(517.5,1123.3) rotate(-90)">92.6</text>
<text class="bs" transform="translate(527.5,1155) rotate(70)">79.8</text>
<text class="bs" transform="translate(544.3,1164) rotate(-12)">56.2</text>
<text class="bs" transform="translate(576.3,1158.3) rotate(-8)">71.9</text>
<text class="bs" transform="translate(526,1186.7) rotate(-85)">96.7</text>
</g>
<g id="pH-scale"><line class="scl" x1="510.3" y1="1297.3" x2="541" y2="1297.3"/><text class="sc" x="525.7" y="1304.5">1.0</text></g>
</g>
</svg>
